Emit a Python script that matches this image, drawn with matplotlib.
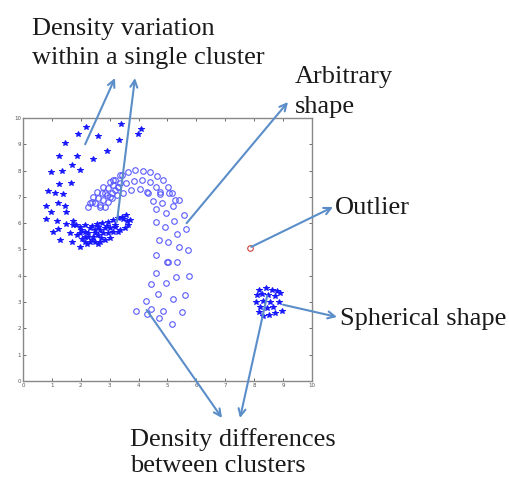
"""
Cluster shapes / density illustration (MATLAB-style scatter with callouts).
Writes out.png.
"""
import matplotlib.pyplot as plt

# ─── Data ───
# sparse outer part of the left "C" (stars)
sparse_x = [2.18, 1.89, 2.61, 3.39, 4.08, 3.98, 3.33, 1.45, 2.90, 1.26, 1.87, 2.41,
            1.68, 1.98, 0.98, 1.35, 1.23, 1.65, 0.87, 1.10, 1.40, 0.79, 1.20, 1.45,
            0.97, 1.48, 0.79, 1.18, 1.50, 1.22, 1.04, 1.28, 1.71, 1.97]
sparse_y = [9.65, 9.39, 9.32, 9.77, 9.60, 9.38, 9.16, 9.05, 8.73, 8.54, 8.56, 8.45,
            8.21, 8.04, 7.95, 7.97, 7.49, 7.54, 7.24, 7.15, 7.11, 6.67, 6.76, 6.65,
            6.43, 6.44, 6.16, 6.08, 5.96, 5.79, 5.65, 5.36, 5.30, 5.11]

# dense bottom band of the left "C" (stars)
band_x = [1.72, 1.72, 1.97, 2.15, 2.38, 2.55, 2.72, 2.95, 3.13, 3.30, 3.47, 3.59,
          3.64, 3.53, 3.36, 3.18, 3.01, 2.84, 2.66, 2.49, 2.32, 2.15, 1.97, 1.86,
          2.15, 2.26, 2.43, 2.61, 2.78, 2.95, 3.13, 3.30, 2.32, 2.49, 2.66, 2.84,
          2.15, 1.63, 3.41, 3.70, 3.55, 2.00, 2.25, 2.50, 2.70, 3.00, 3.20, 2.90,
          2.60, 1.85, 2.05, 2.40, 2.60, 2.20]
band_y = [6.08, 5.93, 5.84, 5.93, 5.91, 5.96, 5.99, 6.06, 6.12, 6.19, 6.16, 6.08,
          5.93, 5.81, 5.74, 5.87, 5.81, 5.81, 5.74, 5.74, 5.81, 5.68, 5.61, 5.55,
          5.49, 5.49, 5.49, 5.55, 5.61, 5.61, 5.68, 5.68, 5.30, 5.30, 5.30, 5.36,
          5.30, 5.61, 6.25, 6.12, 6.30, 5.75, 5.62, 5.62, 5.45, 5.45, 5.95, 5.90,
          5.85, 5.95, 5.40, 5.38, 5.20, 5.20]

# dense elongated cluster inside the "C" (circles)
core_x = [2.38, 2.49, 2.66, 2.84, 2.43, 2.61, 2.78, 2.95, 3.07, 2.55, 2.72, 2.90,
          3.07, 3.18, 2.78, 2.95, 3.13, 3.30, 3.01, 3.18, 3.36, 2.66, 2.32, 3.24,
          2.84, 3.01, 2.25, 3.41]
core_y = [6.82, 6.76, 6.69, 6.63, 7.01, 6.95, 6.88, 6.82, 6.95, 7.20, 7.14, 7.07,
          7.14, 7.26, 7.39, 7.33, 7.45, 7.39, 7.58, 7.64, 7.52, 6.63, 6.78, 7.07,
          7.14, 7.01, 6.63, 7.83]

# arbitrary-shape arc (circles)
arc_x = [3.11, 3.36, 3.63, 3.88, 4.15, 4.39, 4.64, 4.84, 5.02, 5.16, 5.26,
         3.29, 3.56, 3.84, 4.12, 4.39, 4.60, 4.74,
         3.46, 3.74, 4.05, 4.29,
         4.34, 4.74, 5.06, 5.41, 4.49, 4.82, 5.20, 4.60, 4.94, 5.58, 4.60, 4.91,
         5.24, 5.64, 5.32, 4.72, 5.01, 5.41, 5.72, 4.60, 4.97,
         5.01, 5.32, 4.60, 5.29, 5.76, 4.43, 4.94, 4.68, 5.18, 5.61, 4.24, 4.43,
         3.91, 4.28, 4.86, 4.72, 5.49, 5.14]
arc_y = [7.64, 7.83, 7.95, 8.02, 7.98, 7.95, 7.79, 7.64, 7.38, 7.15, 6.88,
         7.38, 7.53, 7.60, 7.64, 7.57, 7.38, 7.11,
         7.15, 7.26, 7.30, 7.19,
         7.14, 7.20, 7.14, 6.88, 6.84, 6.76, 6.67, 6.54, 6.40, 6.31, 6.06, 5.87,
         6.08, 5.77, 5.58, 5.36, 5.30, 5.08, 4.98, 4.79, 4.54,
         4.51, 4.51, 4.09, 3.94, 4.00, 3.67, 3.71, 3.31, 3.13, 3.26, 3.05, 2.72,
         2.66, 2.55, 2.67, 2.38, 2.64, 2.17]

# small spherical cluster (stars)
sph_x = [8.18, 8.41, 8.60, 8.78, 8.89, 8.08, 8.26, 8.49, 8.72, 8.06, 8.32, 8.55,
         8.87, 8.20, 8.43, 8.66, 8.95, 8.18, 8.52, 8.72, 8.32]
sph_y = [3.46, 3.52, 3.46, 3.42, 3.33, 3.27, 3.30, 3.27, 3.23, 3.02, 3.05, 3.02,
         3.02, 2.80, 2.76, 2.80, 2.66, 2.63, 2.51, 2.57, 2.48]

outlier_x = [7.87]
outlier_y = [5.05]

ticks = list(range(0, 11))

# ─── Figure ───
W, H = 510, 479
fig = plt.figure(figsize=(W / 100, H / 100), dpi=100)
ax = fig.add_axes([23 / W, 1 - 381 / H, 289 / W, 263 / H])

c_star = '#1818ff'
c_ring = '#5a5aff'
c_arrow = '#5b8ec9'

ax.plot(sparse_x, sparse_y, '*', color=c_star, ms=3.8, mew=0.7)
ax.plot(band_x, band_y, '*', color=c_star, ms=3.8, mew=0.7)
ax.plot(sph_x, sph_y, '*', color=c_star, ms=3.8, mew=0.7)
ax.plot(core_x, core_y, 'o', color=c_ring, mfc='none', ms=4, mew=0.8)
ax.plot(arc_x, arc_y, 'o', color=c_ring, mfc='none', ms=4, mew=0.8)
ax.plot(outlier_x, outlier_y, 'o', color='#d04040', mfc='none', ms=4, mew=0.8)

ax.set_xlim(0, 10)
ax.set_ylim(0, 10)
ax.set_xticks(ticks)
ax.set_yticks(ticks)
ax.tick_params(direction='in', top=True, right=True, length=2, width=0.6,
               labelsize=4, pad=1.5, colors='#555555')
for s in ax.spines.values():
    s.set_color('#888888')
    s.set_linewidth(1.0)


def fpx(px, py):
    # pixel position in the image -> figure fraction
    return (px / W, 1 - py / H)


def label(px, py, text):
    fig.text(*fpx(px, py), text, ha='left', va='baseline', fontsize=19,
             family='Liberation Serif', color='#1a1a1a')


def callout(tail, head_px):
    ax.annotate('', xy=fpx(*head_px), xycoords='figure fraction',
                xytext=tail, textcoords='data', annotation_clip=False,
                arrowprops=dict(arrowstyle='->,head_length=0.5,head_width=0.25',
                                color=c_arrow, lw=1.5, shrinkA=0, shrinkB=0))


# ─── Callouts ───
label(32, 35, 'Density variation')
label(32, 64, 'within a single cluster')
callout((2.15, 9.0), (115, 78))
callout((3.25, 6.05), (135, 78))

label(295, 83, 'Arbitrary')
label(295, 113, 'shape')
callout((5.66, 6.0), (288, 102))

label(335, 214, 'Outlier')
callout((7.9, 5.1), (333, 207))

label(340, 325, 'Spherical shape')
callout((9.0, 2.9), (337, 317))

label(130, 446, 'Density differences')
label(130, 472, 'between clusters')
callout((4.28, 2.7), (222, 418))
callout((8.45, 3.25), (240, 418))

fig.savefig('out.png', dpi=100, facecolor='white')
plt.close(fig)
